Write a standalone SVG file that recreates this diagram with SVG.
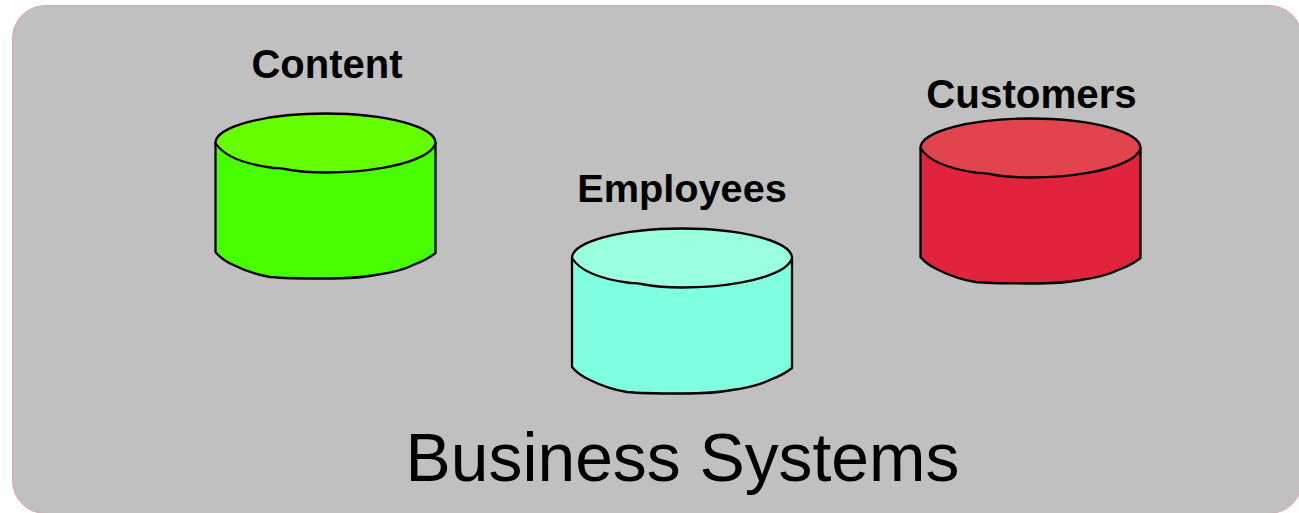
<svg xmlns="http://www.w3.org/2000/svg" width="1299" height="513" viewBox="0 0 1299 513">
<style>
.bg{fill:#c0c0c0;stroke:#e2a0ae;stroke-width:1}
.s{stroke:#000;stroke-width:2.300;stroke-linejoin:round}
.l{font-family:"Liberation Sans",Arial,sans-serif;font-weight:bold;font-size:40px;fill:#000;text-anchor:middle}
.t{font-family:"Liberation Sans",Arial,sans-serif;font-size:67.800px;fill:#000;text-anchor:middle}
</style>
<defs>
<path id="body" d="M0 29V138C5 144 11 148 18 151C30 157 42 161 55 163C70 164.500 85 164.500 110 164.500C125 164.500 142 164.500 160 161C175 159 190 155 200 150C208 147 215 143 220 139V29Z"/>
<path id="top" d="M0 29A110 29.500 0 0 1 220 29C219 33 216 36 212 39C192 52 150 58.500 110 58.500C98 58.500 85 58 72 55.500C65 54 62 54.500 55 53.500C30 50 8 42 0 29Z"/>
</defs>
<rect id="panel" class="bg" x="12.500" y="5.500" width="1289.500" height="508" rx="33" ry="33"/>
<g id="connectors"></g>
<g id="content">
<use href="#body" x="215.500" y="114" class="s" fill="#48ff00"/>
<use href="#top" x="215.500" y="114" class="s" fill="#66ff00"/>
<text class="l" x="327" y="78">Content</text>
</g>
<g id="employees">
<use href="#body" x="572" y="229" class="s" fill="#7fffe0"/>
<use href="#top" x="572" y="229" class="s" fill="#99ffdf"/>
<text class="l" x="682" y="202" style="font-size:39.700px">Employees</text>
</g>
<g id="customers">
<use href="#body" x="920.500" y="119" class="s" fill="#e1233b"/>
<use href="#top" x="920.500" y="119" class="s" fill="#e2444e"/>
<text class="l" x="1031.500" y="108" style="font-size:40.300px">Customers</text>
</g>
<text id="title" class="t" x="682.500" y="481">Business Systems</text>
</svg>
